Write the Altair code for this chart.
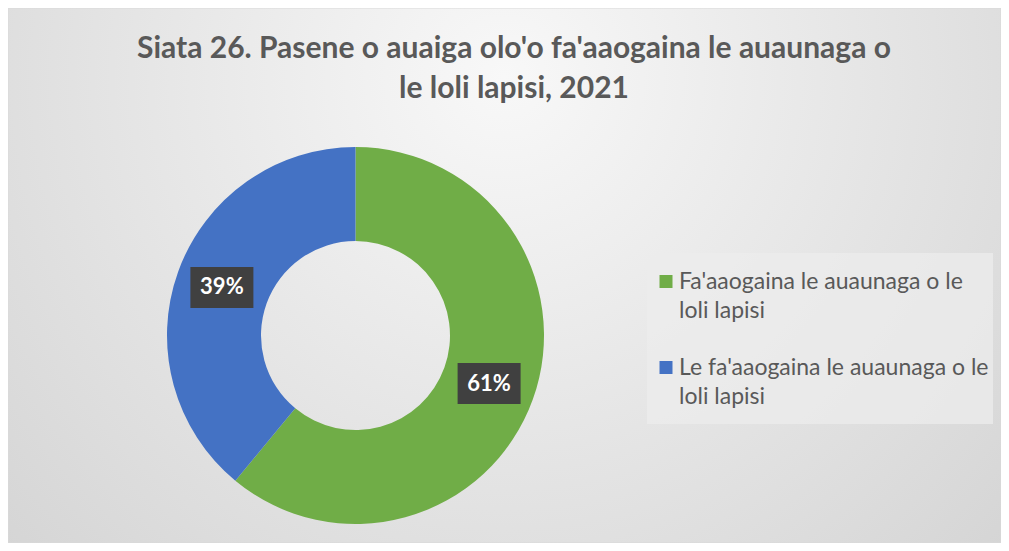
import textwrap
import altair as alt
import pandas as pd

# ---- data ----
TITLE_LINES = ["Siata 26. Pasene o auaiga olo'o fa'aaogaina le auaunaga o",
               "le loli lapisi, 2021"]
CATEGORIES = ["Fa'aaogaina le auaunaga o le loli lapisi",
              "Le fa'aaogaina le auaunaga o le loli lapisi"]
VALUES = [61, 39]
COLORS = ["#70AD47", "#4472C4"]

W, H = 993, 535
CX, CY = 347.5, 327.5
R_OUT, R_IN = 188.5, 94.5
R_LAB = 142
FONT = "Lato"
TXT = "#595959"

df = pd.DataFrame({
    "category": CATEGORIES,
    "value": VALUES,
    "idx": list(range(len(CATEGORIES))),
    "legend": ["\n".join(textwrap.wrap(c, 31)) for c in CATEGORIES],
})

color = alt.Color("category:N",
                  scale=alt.Scale(domain=CATEGORIES, range=COLORS),
                  legend=None)

base = alt.Chart(df)

# background with radial gradient
bg = alt.Chart(pd.DataFrame({"k": [0]})).mark_rect(
    fill=alt.RadialGradient(
        gradient="radial",
        stops=[alt.GradientStop(offset=0, color="#f8f8f8"),
               alt.GradientStop(offset=1, color="#cdcdcd")],
        x1=0.5, y1=0.3, r1=0, x2=0.5, y2=0.3, r2=0.85),
    stroke="#d9d9d9", strokeWidth=1,
).encode(x=alt.value(0), x2=alt.value(W), y=alt.value(0), y2=alt.value(H))

title = alt.Chart(pd.DataFrame({"t": ["\n".join(TITLE_LINES)]})).mark_text(
    font=FONT, fontSize=30, fontWeight="bold", color=TXT,
    align="center", baseline="alphabetic", lineBreak="\n", lineHeight=40,
).encode(x=alt.value(506), y=alt.value(50), text="t:N")

donut = base.mark_arc(innerRadius=R_IN, outerRadius=R_OUT).encode(
    theta=alt.Theta("value:Q", stack=True),
    order=alt.Order("idx:O"),
    color=color,
    x=alt.value(CX), y=alt.value(CY),
)

lab = base.transform_joinaggregate(total="sum(value)").transform_window(
    cum="sum(value)", sort=[alt.SortField("idx")],
    frame=[None, 0]
).transform_calculate(
    mid="(datum.cum - datum.value/2)/datum.total*2*PI",
).transform_calculate(
    px=f"{CX} + {R_LAB}*sin(datum.mid)",
    py=f"{CY} - {R_LAB}*cos(datum.mid)",
    pct="format(datum.value/datum.total, '.0%')",
).transform_calculate(
    x1="datum.px - 31.5", x2="datum.px + 31.5",
    y1="datum.py - 20.5", y2="datum.py + 20.5",
)

lab_box = lab.mark_rect(color="#404040").encode(
    x=alt.X("x1:Q", scale=None, axis=None), x2="x2:Q",
    y=alt.Y("y1:Q", scale=None, axis=None), y2="y2:Q",
)
lab_txt = lab.mark_text(font=FONT, fontSize=22, fontWeight="bold",
                        color="white", baseline="middle", align="center").encode(
    x=alt.X("px:Q", scale=None, axis=None),
    y=alt.Y("py:Q", scale=None, axis=None),
    text="pct:N",
)

# legend (drawn from the same colour scale)
leg_box = alt.Chart(pd.DataFrame({"k": [0]})).mark_rect(
    fill="#ececec", opacity=0.75
).encode(x=alt.value(639), x2=alt.value(985), y=alt.value(245), y2=alt.value(416))

leg = base.transform_calculate(ly="273.5 + datum.idx*86")
leg_sym = leg.mark_square(size=169, opacity=1).encode(
    x=alt.value(658),
    y=alt.Y("ly:Q", scale=None, axis=None),
    color=color,
)
leg_txt = leg.transform_calculate(ty="datum.ly + 7").mark_text(
    font=FONT, fontSize=23, color=TXT, align="left", baseline="alphabetic",
    lineBreak="\n", lineHeight=29,
).encode(
    x=alt.value(671),
    y=alt.Y("ty:Q", scale=None, axis=None),
    text="legend:N",
)

chart = alt.layer(bg, title, donut, lab_box, lab_txt, leg_box, leg_sym, leg_txt).properties(
    width=W, height=H, padding=0,
    autosize=alt.AutoSizeParams(type="none"),
).configure_view(stroke=None)

chart.save("out.html", embed_options={"renderer": "svg", "actions": False})
